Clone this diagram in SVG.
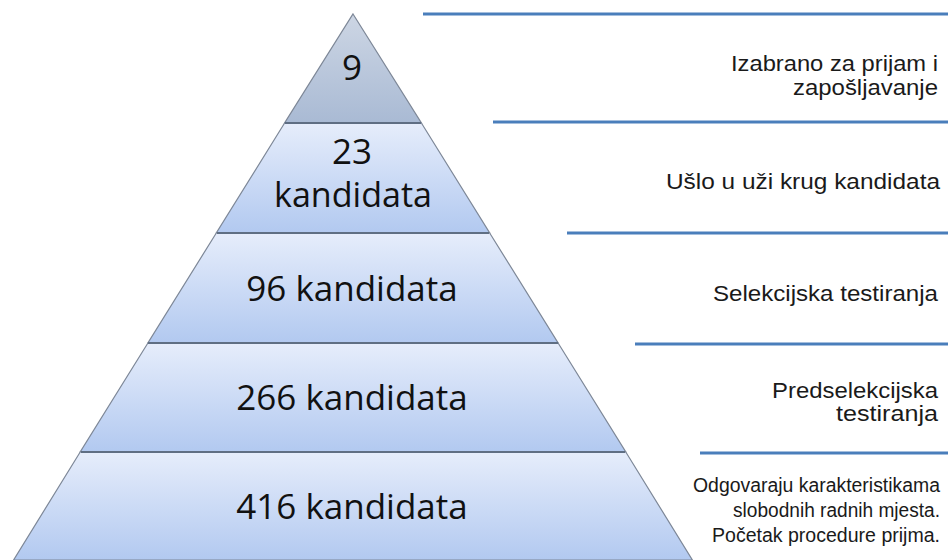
<svg xmlns="http://www.w3.org/2000/svg" width="949" height="560" viewBox="0 0 949 560">
  <defs>
    <linearGradient id="gTop" x1="0" y1="0" x2="0" y2="1">
      <stop offset="0" stop-color="#cdd6e4"/>
      <stop offset="1" stop-color="#a9bad4"/>
    </linearGradient>
    <linearGradient id="gLayer" x1="0" y1="0" x2="0" y2="1">
      <stop offset="0" stop-color="#e6edfb"/>
      <stop offset="1" stop-color="#b2c9f0"/>
    </linearGradient>
    <linearGradient id="gFade" x1="0" y1="0" x2="1" y2="0">
      <stop offset="0" stop-color="#7fa6d6"/>
      <stop offset="1" stop-color="#ffffff"/>
    </linearGradient>
    <style>
      .edge { stroke: #7d8797; stroke-width: 1.2; }
      .sep { stroke: #5f6e83; stroke-width: 2; }
      .rule { stroke: #4a7ebb; stroke-width: 3; fill: none; }
      .num { font-family: "Open Sans", "Noto Sans", sans-serif; font-size: 35px; fill: #111; text-anchor: middle; }
      .lbl { font-family: "Liberation Sans", Arial, sans-serif; font-size: 22px; fill: #1a1a1a; text-anchor: end; }
      .lbl2 { font-family: "Liberation Sans", Arial, sans-serif; font-size: 19.5px; fill: #1a1a1a; text-anchor: end; }
    </style>
  </defs>
  <rect width="949" height="560" fill="#ffffff"/>

  <g id="layer1">
    <polygon points="353,14 421.4,123 284.6,123" fill="url(#gTop)" class="edge"/>
    <text class="num" x="352" y="80">9</text>
  </g>
  <g id="layer2">
    <polygon points="284.6,123 421.4,123 489.7,233 216.3,233" fill="url(#gLayer)" class="edge"/>
    <text class="num" x="352" y="164">23</text>
    <text class="num" x="353" y="207" textLength="158" lengthAdjust="spacingAndGlyphs">kandidata</text>
  </g>
  <g id="layer3">
    <polygon points="216.3,233 489.7,233 558.1,343 147.9,343" fill="url(#gLayer)" class="edge"/>
    <text class="num" x="352" y="301">96 kandidata</text>
  </g>
  <g id="layer4">
    <polygon points="147.9,343 558.1,343 625.8,452 80.2,452" fill="url(#gLayer)" class="edge"/>
    <text class="num" x="352" y="410">266 kandidata</text>
  </g>
  <g id="layer5">
    <polygon points="80.2,452 625.8,452 692.4,560 13.6,560" fill="url(#gLayer)" class="edge"/>
    <text class="num" x="352" y="519">416 kandidata</text>
  </g>

  <g id="separators">
    <line class="sep" x1="285" y1="123" x2="421" y2="123"/>
    <line class="sep" x1="217" y1="233" x2="489" y2="233"/>
    <line class="sep" x1="148" y1="343" x2="558" y2="343"/>
    <line class="sep" x1="81" y1="452" x2="625" y2="452"/>
  </g>

  <g id="connectors">
    <line class="rule" x1="423" y1="14" x2="948" y2="14"/>
    <line class="rule" x1="493" y1="122" x2="948" y2="122"/>
    <line class="rule" x1="567" y1="233" x2="948" y2="233"/>
    <line class="rule" x1="635" y1="344" x2="948" y2="344"/>
    <line class="rule" x1="700" y1="453" x2="948" y2="453"/>
    <line x1="760" y1="558" x2="880" y2="558" stroke="url(#gFade)" stroke-width="3"/>
  </g>

  <g id="label1">
    <text class="lbl" x="938" y="71" textLength="207" lengthAdjust="spacingAndGlyphs">Izabrano za prijam i</text>
    <text class="lbl" x="938" y="95" textLength="145" lengthAdjust="spacingAndGlyphs">zapošljavanje</text>
  </g>
  <g id="label2">
    <text class="lbl" x="940" y="189" textLength="274" lengthAdjust="spacingAndGlyphs">Ušlo u uži krug kandidata</text>
  </g>
  <g id="label3">
    <text class="lbl" x="938" y="301" textLength="225" lengthAdjust="spacingAndGlyphs">Selekcijska testiranja</text>
  </g>
  <g id="label4">
    <text class="lbl" x="938" y="398" textLength="166" lengthAdjust="spacingAndGlyphs">Predselekcijska</text>
    <text class="lbl" x="938" y="421" textLength="102" lengthAdjust="spacingAndGlyphs">testiranja</text>
  </g>
  <g id="label5">
    <text class="lbl2" x="940" y="492" textLength="247" lengthAdjust="spacingAndGlyphs">Odgovaraju karakteristikama</text>
    <text class="lbl2" x="940" y="517" textLength="207" lengthAdjust="spacingAndGlyphs">slobodnih radnih mjesta.</text>
    <text class="lbl2" x="940" y="542" textLength="228" lengthAdjust="spacingAndGlyphs">Početak procedure prijma.</text>
  </g>
</svg>
